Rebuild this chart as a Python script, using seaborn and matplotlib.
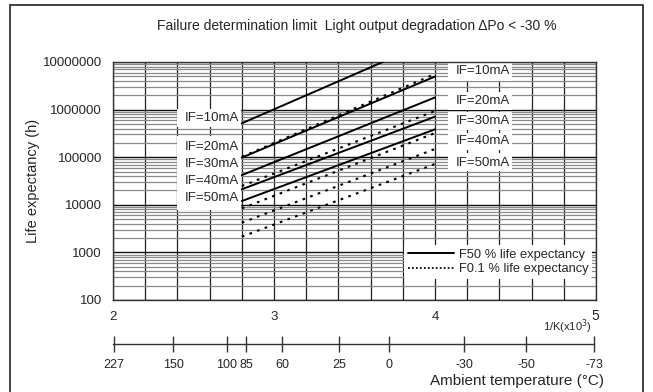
import numpy as np
import pandas as pd
import matplotlib
matplotlib.use("Agg")
import matplotlib.pyplot as plt
from matplotlib.patches import Rectangle
from matplotlib.lines import Line2D
import seaborn as sns

# ---- data ----
inv_k = [2.8, 4.0]                      # 1/K (x10^-3)
currents = ["IF=10mA", "IF=20mA", "IF=30mA", "IF=40mA", "IF=50mA"]
f50_start = [515000, 98000, 42000, 21200, 12000]
f50_end = [30000000, 4950000, 1800000, 710000, 385000]
f01_start = [102000, 24800, 8400, 4200, 2140]
f01_end = [5600000, 935000, 322000, 149000, 72000]
temp_labels = [227, 150, 100, 85, 60, 25, 0, -30, -50, -73]
temp_pos = [2.006, 2.373, 2.708, 2.826, 3.05, 3.404, 3.714, 4.18, 4.565, 4.99]
y_ticks = [100, 1000, 10000, 100000, 1000000, 10000000]

rows = []
for i, c in enumerate(currents):
    rows.append(dict(x=inv_k[0], y=f50_start[i], cur=c, kind="F50"))
    rows.append(dict(x=inv_k[1], y=f50_end[i], cur=c, kind="F50"))
    rows.append(dict(x=inv_k[0], y=f01_start[i], cur=c, kind="F0.1"))
    rows.append(dict(x=inv_k[1], y=f01_end[i], cur=c, kind="F0.1"))
df = pd.DataFrame(rows)

sns.set_style("white")
plt.rcParams["font.family"] = ["Liberation Sans", "DejaVu Sans"]

W, H = 653, 392
fig = plt.figure(figsize=(W / 100, H / 100), dpi=100)

def fx(px):
    return px / W

def fy(py):
    return 1 - py / H

L, R, T, B = 113, 596, 62, 300
ax = fig.add_axes([fx(L), fy(B), fx(R) - fx(L), fy(T) - fy(B)])

# lines
for i, c in enumerate(currents):
    sub = df[(df.cur == c) & (df.kind == "F50")]
    sns.lineplot(data=sub, x="x", y="y", ax=ax, color="black", lw=1.4,
                 legend=False, zorder=4)
    sub = df[(df.cur == c) & (df.kind == "F0.1")]
    sns.lineplot(data=sub, x="x", y="y", ax=ax, color="black", lw=1.5,
                 linestyle=(0, (1.3, 2.6)), legend=False, zorder=4)

ax.set_yscale("log")
ax.set_xlim(2, 5)
ax.set_ylim(100, 1e7)
ax.set_xticks([2, 3, 4, 5])
ax.set_xticks(np.arange(2, 5.01, 0.2), minor=True)
ax.set_xticklabels(["2", "3", "4", ""])
ax.set_yticks(y_ticks)
ax.set_yticklabels([str(v) for v in y_ticks])
ax.set_yticks([m * 10 ** e for e in range(2, 7) for m in range(2, 10)], minor=True)
ax.tick_params(axis="both", which="both", length=0, labelsize=9.5)
ax.tick_params(axis="x", pad=8)
ax.tick_params(axis="y", pad=8)
ax.set_xlabel("")
ax.set_ylabel("Life expectancy (h)", fontsize=10.5)
ax.yaxis.set_label_coords((40 - L) / (R - L), 0.5)
ax.set_axisbelow(True)
ax.grid(True, axis="x", which="both", color="#222222", lw=0.9)
ax.grid(True, axis="y", which="major", color="#111111", lw=1.0)
ax.grid(True, axis="y", which="minor", color="#8a8a8a", lw=0.9)
for s in ax.spines.values():
    s.set_color("#333333")
    s.set_linewidth(1.0)

def dx(px):
    return 2 + (px - L) / 161.0

def dy(py):
    return 10 ** (7 - (py - T) / 47.6)

def box(px0, py0, px1, py1):
    ax.add_patch(Rectangle((dx(px0), dy(py1)), dx(px1) - dx(px0), dy(py0) - dy(py1),
                           facecolor="white", edgecolor="none", zorder=2))

# left labels
box(177, 109, 241.5, 127)
box(177, 136, 241.5, 210)
left_y = [118, 147, 164, 181, 198.5]
for c, py in zip(currents, left_y):
    ax.text(dx(239.5), dy(py), c, ha="right", va="center", fontsize=9.5, zorder=3)

# right labels
right_y = [71.5, 101, 121, 141.5, 162.5]
for c, py in zip(currents, right_y):
    box(448, py - 9, 512, py + 9)
    ax.text(dx(456), dy(py), c, ha="left", va="center", fontsize=9.5, zorder=3)

# legend
handles = [Line2D([], [], color="black", lw=1.4),
           Line2D([], [], color="black", lw=1.3, linestyle=(0, (1, 1.2)))]
leg = ax.legend(handles, ["F50 % life expectancy", "F0.1 % life expectancy"],
                loc="lower right", bbox_to_anchor=(0.992, 0.09), fontsize=9.3,
                frameon=True, handlelength=3.6, handletextpad=0.4,
                borderpad=0.25, labelspacing=0.2, borderaxespad=0)
leg.get_frame().set_facecolor("white")
leg.get_frame().set_edgecolor("none")
leg.get_frame().set_alpha(1)
leg.set_zorder(5)

# 5 and 1/K label
fig.text(fx(595), fy(316), "5", ha="center", va="center", fontsize=10)
fig.text(fx(567), fy(327), "1/K(x10$^{3}$)", ha="center", va="center", fontsize=8)

# temperature axis
axt = fig.add_axes([fx(L), fy(344), fx(R) - fx(L), 0.0001])
axt.set_xlim(2, 5)
axt.set_ylim(0, 1)
axt.set_yticks([])
for k in ["top", "left", "right"]:
    axt.spines[k].set_visible(False)
axt.spines["bottom"].set_color("#333333")
axt.spines["bottom"].set_linewidth(1.0)
axt.spines["bottom"].set_bounds(2, 4.99)
axt.patch.set_alpha(0)
axt.set_xticks(temp_pos)
axt.set_xticklabels([str(t) for t in temp_labels])
axt.tick_params(axis="x", bottom=True, direction="inout", length=12, width=1.0,
                color="#333333", labelsize=9, pad=5)

fig.text(fx(604), fy(381), "Ambient temperature (°C)", ha="right", va="center",
         fontsize=11)

# title
fig.text(fx(357), fy(26), "Failure determination limit  Light output degradation \u0394Po < -30 %",
         ha="center", va="center", fontsize=10)

# outer frame
fig.patches.append(Rectangle((fx(10), -0.05), fx(643) - fx(10), fy(5) + 0.05,
                             transform=fig.transFigure, fill=False,
                             edgecolor="#222222", lw=1.2))

fig.savefig("out.png", dpi=100)
